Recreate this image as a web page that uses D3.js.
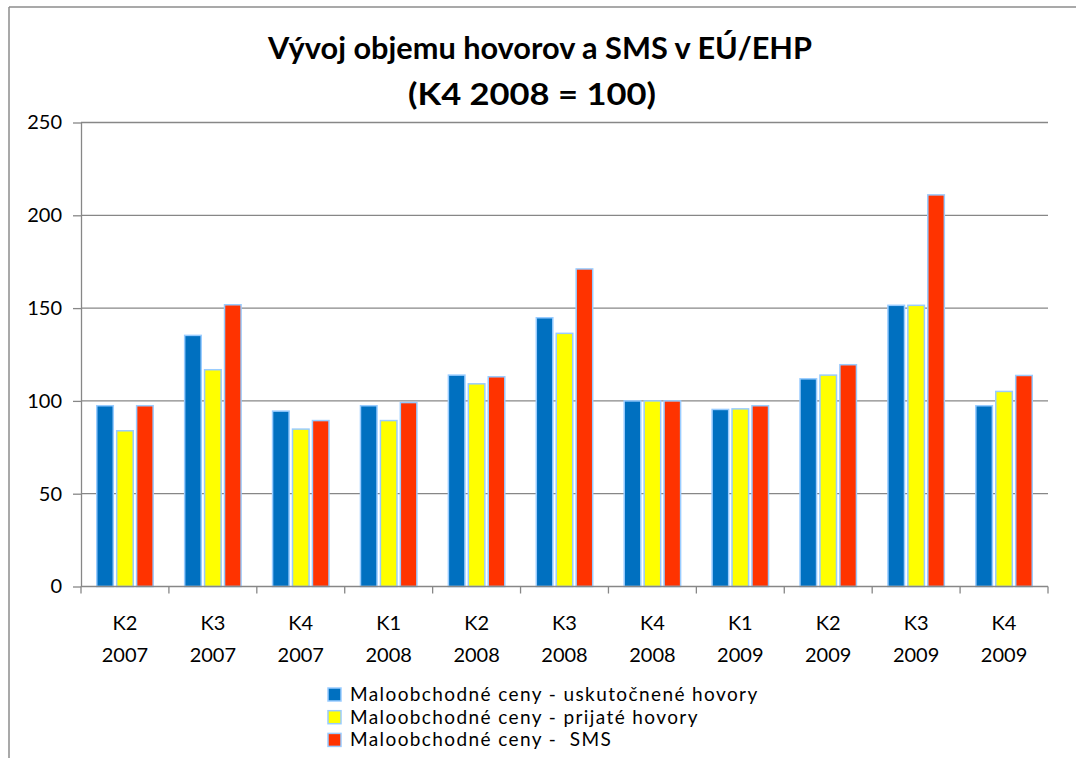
<!DOCTYPE html>
<html>
<head>
<meta charset="utf-8">
<title>Vývoj objemu hovorov a SMS</title>
<script src="https://d3js.org/d3.v7.min.js"></script>
<style>
  body { margin: 0; background: #fff; }
  svg text { font-family: Lato, "Open Sans", sans-serif; fill: #000; }
  .grid line { stroke: #878787; stroke-width: 1.3; }
  .axis path, .axis line { stroke: #878787; stroke-width: 1.3; }
</style>
</head>
<body>
<svg id="chart" width="1076" height="758"></svg>
<script>
// data
let quarters = ["K2","K3","K4","K1","K2","K3","K4","K1","K2","K3","K4"];
let years = ["2007","2007","2007","2008","2008","2008","2008","2009","2009","2009","2009"];
let seriesNames = [
  "Maloobchodné ceny - uskutočnené hovory",
  "Maloobchodné ceny - prijaté hovory",
  "Maloobchodné ceny -  SMS"
];
let madeCalls     = [97.4, 135.3, 94.5, 97.4, 113.9, 144.8, 100, 95.4, 111.9, 151.5, 97.4];
let receivedCalls = [83.9, 116.8, 84.8, 89.4, 109.2, 136.4, 100, 95.7, 113.9, 151.5, 105.1];
let sms           = [97.4, 151.8, 89.4, 99.1, 113.0, 171.1, 100, 97.4, 119.5, 211.0, 113.7];
let yTicks = [0, 50, 100, 150, 200, 250];
let colors = ["#0070C0", "#FFFF00", "#FF3300"];

let series = [madeCalls, receivedCalls, sms];
let cats = quarters.map((q, i) => i);

let svg = d3.select("#chart");
let plotL = 81, plotR = 1048, plotT = 122.5, plotB = 586.5;

// outer frame (only top and left edges are visible)
svg.append("line").attr("x1", 9).attr("x2", 1076).attr("y1", 7).attr("y2", 7)
  .attr("stroke", "#8c8c8c").attr("stroke-width", 1.5);
svg.append("line").attr("x1", 9).attr("x2", 9).attr("y1", 7).attr("y2", 758)
  .attr("stroke", "#8c8c8c").attr("stroke-width", 1.5);

// title
svg.append("text").attr("x", 540).attr("y", 59).attr("text-anchor", "middle")
  .style("font-weight", "bold").style("font-size", "30px")
  .attr("textLength", 544).attr("lengthAdjust", "spacingAndGlyphs")
  .text("Vývoj objemu hovorov a SMS v EÚ/EHP");
svg.append("text").attr("x", 532).attr("y", 105).attr("text-anchor", "middle")
  .style("font-weight", "bold").style("font-size", "31px")
  .attr("textLength", 248).attr("lengthAdjust", "spacingAndGlyphs")
  .text("(K4 2008 = 100)");

let x = d3.scaleBand().domain(cats).range([plotL, plotR]).padding(0);
let xs = d3.scaleBand().domain([0, 1, 2])
  .range([15.75, x.bandwidth() - 15.75]).paddingInner(0.17).paddingOuter(0);
let y = d3.scaleLinear().domain([0, 250]).range([plotB, plotT]);

// gridlines
svg.append("g").attr("class", "grid")
  .selectAll("line").data(yTicks.filter(d => d > 0)).enter().append("line")
  .attr("x1", plotL).attr("x2", plotR)
  .attr("y1", d => y(d)).attr("y2", d => y(d));

// y axis
let yAxis = svg.append("g").attr("class", "axis")
  .attr("transform", "translate(" + plotL + ",0)")
  .call(d3.axisLeft(y).tickValues(yTicks).tickSize(8).tickSizeOuter(0).tickPadding(11));
yAxis.selectAll("text").style("font-size", "20px");

// bars
let groups = svg.append("g").selectAll("g").data(cats).enter().append("g")
  .attr("transform", d => "translate(" + x(d) + ",0)");
groups.selectAll("rect")
  .data(i => series.map((s, k) => ({k: k, v: s[i]})))
  .enter().append("rect")
  .attr("x", d => xs(d.k))
  .attr("width", xs.bandwidth())
  .attr("y", d => y(d.v))
  .attr("height", d => y(0) - y(d.v))
  .attr("fill", d => colors[d.k])
  .attr("stroke", "#99CCFF").attr("stroke-width", 1.5);

// x axis with category boundaries as ticks
let xAxisG = svg.append("g").attr("class", "axis");
xAxisG.append("line").attr("x1", plotL).attr("x2", plotR)
  .attr("y1", plotB).attr("y2", plotB);
xAxisG.selectAll(".tick").data(d3.range(cats.length + 1)).enter().append("line")
  .attr("x1", d => plotL + d * x.step()).attr("x2", d => plotL + d * x.step())
  .attr("y1", plotB).attr("y2", plotB + 7);

let labels = svg.append("g").selectAll("text").data(cats).enter().append("text")
  .attr("x", d => x(d) + x.bandwidth() / 2)
  .attr("text-anchor", "middle").style("font-size", "20px");
labels.append("tspan").attr("x", d => x(d) + x.bandwidth() / 2).attr("y", 630)
  .text(d => quarters[d]);
labels.append("tspan").attr("x", d => x(d) + x.bandwidth() / 2).attr("y", 662)
  .text(d => years[d]);

// legend
let legend = svg.append("g").selectAll("g").data(seriesNames).enter().append("g")
  .attr("transform", (d, i) => "translate(328," + (688 + i * 22.7) + ")");
legend.append("rect").attr("width", 13).attr("height", 13)
  .attr("fill", (d, i) => colors[i]).attr("stroke", "#99CCFF").attr("stroke-width", 1.5);
legend.append("text").attr("x", 22).attr("y", 13)
  .style("font-size", "19px").style("letter-spacing", "1.4px").style("white-space", "pre")
  .text(d => d);
</script>
</body>
</html>
